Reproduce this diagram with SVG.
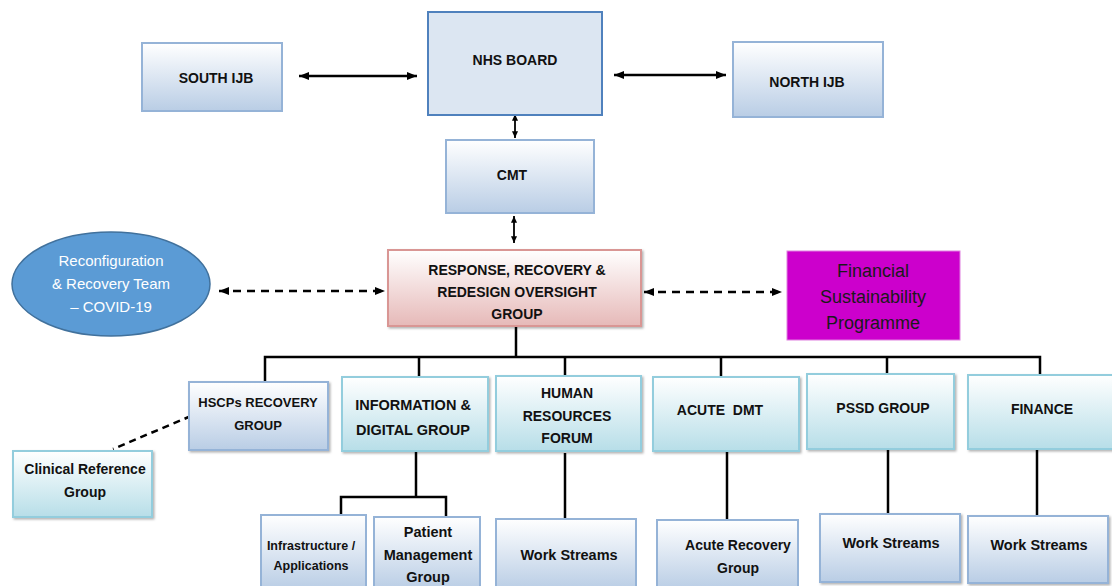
<svg xmlns="http://www.w3.org/2000/svg" width="1112" height="586" viewBox="0 0 1112 586">
<defs>
  <linearGradient id="gBlue" x1="0" y1="0" x2="0" y2="1">
    <stop offset="0" stop-color="#ffffff"/>
    <stop offset="1" stop-color="#b9cde5"/>
  </linearGradient>
  <linearGradient id="gTeal" x1="0" y1="0" x2="0" y2="1">
    <stop offset="0" stop-color="#ffffff"/>
    <stop offset="1" stop-color="#b7dee8"/>
  </linearGradient>
  <linearGradient id="gRed" x1="0" y1="0" x2="0" y2="1">
    <stop offset="0" stop-color="#ffffff"/>
    <stop offset="1" stop-color="#e6b9b8"/>
  </linearGradient>
  <filter id="sh" x="-5%" y="-5%" width="115%" height="115%">
    <feDropShadow dx="1.5" dy="1.5" stdDeviation="0.8" flood-color="#000" flood-opacity="0.3"/>
  </filter>
  <marker id="ah" viewBox="0 0 10 8" refX="10" refY="4" markerWidth="10" markerHeight="8" markerUnits="userSpaceOnUse" orient="auto-start-reverse">
    <path d="M0,0 L10,4 L0,8 Z" fill="#000"/>
  </marker>
  <marker id="ahs" viewBox="0 0 8 7" refX="8" refY="3.5" markerWidth="7" markerHeight="6" markerUnits="userSpaceOnUse" orient="auto-start-reverse">
    <path d="M0,0 L8,3.5 L0,7 Z" fill="#000"/>
  </marker>
</defs>
<style>
  .blue { fill: url(#gBlue); stroke: #95b3d7; stroke-width: 2; }
  .teal { fill: url(#gTeal); stroke: #93cddd; stroke-width: 2; }
  .b { font-family: "Liberation Sans", Arial, sans-serif; font-weight: bold; fill: #111; text-anchor: middle; }
  .r { font-family: "Liberation Sans", Arial, sans-serif; text-anchor: middle; }
  .ln { stroke: #000; stroke-width: 2.5; fill: none; }
  .arr { stroke: #000; stroke-width: 2.5; fill: none; }
  .dash { stroke: #000; stroke-width: 2.5; fill: none; stroke-dasharray: 8 6; }
</style>

<g id="connectors">
  <line class="arr" x1="299" y1="76" x2="417" y2="76" marker-start="url(#ah)" marker-end="url(#ah)"/>
  <line class="arr" x1="614" y1="75" x2="726" y2="75" marker-start="url(#ah)" marker-end="url(#ah)"/>
  <line x1="515" y1="114" x2="515" y2="138" stroke="#000" stroke-width="1.8" marker-start="url(#ahs)" marker-end="url(#ahs)"/>
  <line x1="514" y1="216" x2="514" y2="243" stroke="#000" stroke-width="1.8" marker-start="url(#ahs)" marker-end="url(#ahs)"/>
  <line class="dash" x1="219" y1="291" x2="385" y2="291" marker-start="url(#ah)" marker-end="url(#ah)"/>
  <line class="dash" x1="644" y1="292" x2="782" y2="292" marker-start="url(#ah)" marker-end="url(#ah)"/>
  <polyline class="ln" points="516,326 516,357"/>
  <polyline class="ln" points="265,382 265,357 1040,357 1040,375"/>
  <line class="ln" x1="419" y1="357" x2="419" y2="377"/>
  <line class="ln" x1="565" y1="357" x2="565" y2="376"/>
  <line class="ln" x1="721" y1="357" x2="721" y2="377"/>
  <line class="ln" x1="887" y1="357" x2="887" y2="374"/>
  <line x1="191" y1="416" x2="113" y2="449" stroke="#000" stroke-width="2.5" stroke-dasharray="7 5"/>
  <line class="ln" x1="416" y1="452" x2="416" y2="497"/>
  <polyline class="ln" points="341,514 341,497 446,497 446,516"/>
  <line class="ln" x1="565" y1="453" x2="565" y2="520"/>
  <line class="ln" x1="727" y1="452" x2="727" y2="520"/>
  <line class="ln" x1="888" y1="450" x2="888" y2="514"/>
  <line class="ln" x1="1037" y1="450" x2="1037" y2="516"/>
</g>

<g id="south-ijb">
  <rect class="blue" x="142" y="43" width="140" height="68"/>
  <text class="b" x="216" y="83" font-size="14">SOUTH IJB</text>
</g>
<g id="nhs-board">
  <rect x="428" y="12" width="174" height="103" fill="#dce6f2" stroke="#4f81bd" stroke-width="2"/>
  <text class="b" x="515" y="65" font-size="14">NHS BOARD</text>
</g>
<g id="north-ijb">
  <rect class="blue" x="733" y="42" width="150" height="75"/>
  <text class="b" x="807" y="87" font-size="14">NORTH IJB</text>
</g>
<g id="cmt">
  <rect class="blue" x="446" y="140" width="148" height="73"/>
  <text class="b" x="512" y="180" font-size="14">CMT</text>
</g>
<g id="rrr-oversight">
  <rect x="388" y="250" width="253" height="76" fill="url(#gRed)" stroke="#d99694" stroke-width="2" filter="url(#sh)"/>
  <text class="b" x="517" y="275" font-size="14">RESPONSE, RECOVERY &amp;</text>
  <text class="b" x="517" y="297" font-size="14">REDESIGN OVERSIGHT</text>
  <text class="b" x="517" y="319" font-size="14">GROUP</text>
</g>
<g id="reconfiguration-team">
  <ellipse cx="111" cy="284" rx="99" ry="52" fill="#5b9bd5" stroke="#41719c" stroke-width="1.5"/>
  <text class="r" x="111" y="266" font-size="15" fill="#ffffff">Reconfiguration</text>
  <text class="r" x="111" y="289" font-size="15" fill="#ffffff">&amp; Recovery Team</text>
  <text class="r" x="111" y="312" font-size="15" fill="#ffffff">– COVID-19</text>
</g>
<g id="financial-sustainability">
  <rect x="787" y="251" width="173" height="89" fill="#cc00cc" stroke="#e080e0" stroke-width="1"/>
  <text class="r" x="873" y="277" font-size="18" fill="#1a1a1a">Financial</text>
  <text class="r" x="873" y="303" font-size="18" fill="#1a1a1a">Sustainability</text>
  <text class="r" x="873" y="329" font-size="18" fill="#1a1a1a">Programme</text>
</g>
<g id="hscps-recovery">
  <rect class="blue" x="189" y="382" width="139" height="68" filter="url(#sh)"/>
  <text class="b" x="258" y="407" font-size="13">HSCPs RECOVERY</text>
  <text class="b" x="258" y="430" font-size="13">GROUP</text>
</g>
<g id="clinical-reference">
  <rect class="teal" x="13" y="451" width="139" height="66" filter="url(#sh)"/>
  <text class="b" x="85" y="474" font-size="14">Clinical Reference</text>
  <text class="b" x="85" y="497" font-size="14">Group</text>
</g>
<g id="information-digital">
  <rect class="teal" x="342" y="377" width="146" height="74" filter="url(#sh)"/>
  <text class="b" x="413" y="410" font-size="14.5">INFORMATION &amp;</text>
  <text class="b" x="413" y="435" font-size="14.5">DIGITAL GROUP</text>
</g>
<g id="human-resources">
  <rect class="teal" x="496" y="376" width="145" height="75" filter="url(#sh)"/>
  <text class="b" x="567" y="398" font-size="14">HUMAN</text>
  <text class="b" x="567" y="421" font-size="14">RESOURCES</text>
  <text class="b" x="567" y="443" font-size="14">FORUM</text>
</g>
<g id="acute-dmt">
  <rect class="teal" x="653" y="377" width="146" height="74" filter="url(#sh)"/>
  <text class="b" x="720" y="415" font-size="14" xml:space="preserve">ACUTE  DMT</text>
</g>
<g id="pssd-group">
  <rect class="teal" x="807" y="374" width="147" height="75" filter="url(#sh)"/>
  <text class="b" x="883" y="413" font-size="14">PSSD GROUP</text>
</g>
<g id="finance">
  <rect class="teal" x="968" y="375" width="146" height="74" filter="url(#sh)"/>
  <text class="b" x="1042" y="414" font-size="14">FINANCE</text>
</g>
<g id="infrastructure">
  <rect class="blue" x="261" y="515" width="105" height="75"/>
  <text class="b" x="311" y="550" font-size="12.5">Infrastructure /</text>
  <text class="b" x="311" y="570" font-size="12.5">Applications</text>
</g>
<g id="patient-management">
  <rect class="blue" x="374" y="517" width="106" height="73"/>
  <text class="b" x="428" y="537" font-size="14.5">Patient</text>
  <text class="b" x="428" y="560" font-size="14.5">Management</text>
  <text class="b" x="428" y="582" font-size="14.5">Group</text>
</g>
<g id="hr-work-streams">
  <rect class="blue" x="496" y="519" width="140" height="71"/>
  <text class="b" x="569" y="560" font-size="14.5">Work Streams</text>
</g>
<g id="acute-recovery">
  <rect class="blue" x="657" y="520" width="141" height="70"/>
  <text class="b" x="738" y="550" font-size="14">Acute Recovery</text>
  <text class="b" x="738" y="573" font-size="14">Group</text>
</g>
<g id="pssd-work-streams">
  <rect class="blue" x="820" y="514" width="140" height="68" filter="url(#sh)"/>
  <text class="b" x="891" y="548" font-size="14.5">Work Streams</text>
</g>
<g id="finance-work-streams">
  <rect class="blue" x="968" y="516" width="140" height="67" filter="url(#sh)"/>
  <text class="b" x="1039" y="550" font-size="14.5">Work Streams</text>
</g>
</svg>
